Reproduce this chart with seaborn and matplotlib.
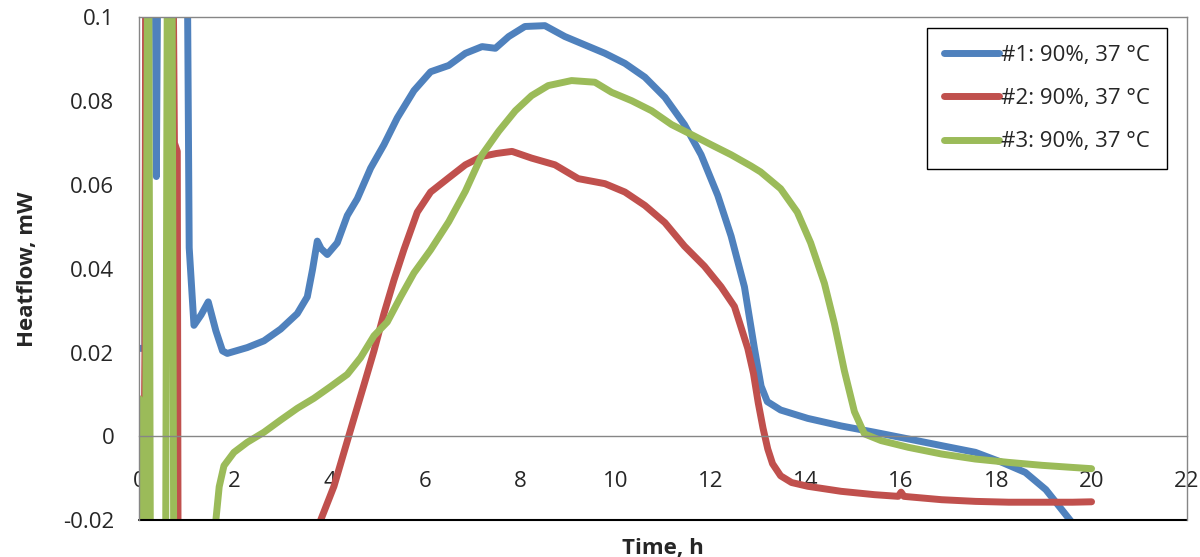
import pandas as pd
import matplotlib
matplotlib.use("Agg")
import matplotlib.pyplot as plt
import seaborn as sns

# ---------------- DATA ----------------
time1 = [0.0, 0.12, 0.15, 0.33, 0.36, 0.40, 1.0, 1.05, 1.15, 1.3, 1.45, 1.61, 1.75,
         1.85, 2.27, 2.62, 2.97, 3.32, 3.53, 3.64, 3.74, 3.82, 3.95, 4.16, 4.37, 4.58,
         4.86, 5.14, 5.42, 5.77, 6.12, 6.5, 6.85, 7.2, 7.48, 7.76, 8.1, 8.52, 8.94,
         9.36, 9.78, 10.2, 10.62, 11.04, 11.45, 11.8, 12.15, 12.43, 12.71, 12.92, 13.06,
         13.19, 13.47, 14.04, 14.74, 15.44, 16.15, 16.85, 17.56, 18.12, 18.61, 19.04,
         19.32, 19.6, 19.75]
heat1 = [0.021, 0.021, 0.13, 0.13, 0.062, 0.13, 0.13, 0.045, 0.0265, 0.029, 0.0321, 0.0252,
         0.0204, 0.0198, 0.0212, 0.0228, 0.0256, 0.0293, 0.0333, 0.0398, 0.0466, 0.0448,
         0.0434, 0.0462, 0.0527, 0.0567, 0.064, 0.0696, 0.076, 0.0825, 0.087, 0.0885,
         0.0914, 0.093, 0.0926, 0.0954, 0.0978, 0.098, 0.0954, 0.0934, 0.0914, 0.089,
         0.0857, 0.0809, 0.0744, 0.0672, 0.0575, 0.0478, 0.0357, 0.021, 0.012, 0.0083,
         0.0063, 0.0043, 0.0025, 0.001, -0.0006, -0.0022, -0.0038, -0.0062, -0.0086,
         -0.0127, -0.0167, -0.0207, -0.023]

time2 = [0.0, 0.06, 0.1, 0.12, 0.14, 0.70, 0.74, 0.80, 0.82, 3.6, 3.81, 4.09, 4.3, 4.51,
         4.72, 4.93, 5.14, 5.35, 5.56, 5.84, 6.12, 6.5, 6.85, 7.2, 7.5, 7.83, 8.24, 8.73,
         9.22, 9.78, 10.2, 10.62, 11.04, 11.45, 11.87, 12.22, 12.5, 12.78, 12.9, 13.0,
         13.1, 13.2, 13.3, 13.47, 13.7, 14.04, 14.74, 15.44, 15.94, 16.0, 16.06, 16.15,
         16.85, 17.56, 18.26, 19.0, 19.6, 20.0]
heat2 = [-0.012, -0.013, -0.008, 0.02, 0.13, 0.13, 0.07, 0.068, -0.05, -0.03, -0.02,
         -0.0119, -0.0038, 0.0043, 0.0123, 0.0204, 0.0293, 0.0373, 0.0446, 0.0535, 0.0583,
         0.0617, 0.0648, 0.0668, 0.0675, 0.068, 0.0664, 0.0648, 0.0615, 0.0603, 0.0583,
         0.0551, 0.051, 0.0454, 0.0406, 0.0357, 0.031, 0.021, 0.015, 0.008, 0.002, -0.003,
         -0.0065, -0.0094, -0.011, -0.0119, -0.0131, -0.0139, -0.0143, -0.0133, -0.0143,
         -0.0144, -0.0151, -0.0155, -0.0157, -0.0157, -0.0157, -0.0156]

time3 = [0.0, 0.03, 0.06, 0.12, 0.19, 0.24, 0.55, 0.6, 0.68, 0.73, 1.55, 1.61, 1.68, 1.78,
         1.99, 2.27, 2.62, 2.97, 3.32, 3.67, 4.02, 4.37, 4.65, 4.93, 5.21, 5.49, 5.77,
         6.12, 6.5, 6.85, 7.2, 7.55, 7.9, 8.24, 8.59, 9.08, 9.57, 9.92, 10.34, 10.76,
         11.18, 11.6, 12.01, 12.43, 12.85, 13.05, 13.47, 13.82, 14.1, 14.39, 14.6, 14.81,
         15.02, 15.23, 15.58, 16.15, 16.85, 17.56, 18.26, 18.96, 19.6, 20.0]
heat3 = [0.009, 0.006, 0.0, -0.05, 0.15, -0.05, -0.05, 0.15, 0.15, -0.05, -0.03, -0.02,
         -0.012, -0.007, -0.0038, -0.0014, 0.001, 0.0039, 0.0067, 0.0091, 0.0119, 0.0148,
         0.0188, 0.024, 0.0273, 0.0333, 0.039, 0.0445, 0.0512, 0.0585, 0.0672, 0.0728,
         0.0777, 0.0813, 0.0837, 0.0849, 0.0845, 0.0821, 0.0801, 0.0777, 0.0744, 0.072,
         0.0696, 0.0672, 0.0645, 0.0631, 0.0591, 0.0535, 0.0462, 0.0365, 0.0269, 0.0156,
         0.0059, 0.0006, -0.001, -0.0026, -0.0042, -0.0054, -0.0062, -0.0069, -0.0074,
         -0.0077]

labels = ["#1: 90%, 37 °C", "#2: 90%, 37 °C", "#3: 90%, 37 °C"]
colors = ["#4F81BD", "#C0504D", "#9BBB59"]

x_ticks = [0, 2, 4, 6, 8, 10, 12, 14, 16, 18, 20, 22]
y_ticks = [-0.02, 0, 0.02, 0.04, 0.06, 0.08, 0.1]
y_tick_labels = ["-0.02", "0", "0.02", "0.04", "0.06", "0.08", "0.1"]

# ---------------- LONG FORMAT ----------------
frames = []
for lab, t, h in zip(labels, [time1, time2, time3], [heat1, heat2, heat3]):
    frames.append(pd.DataFrame({"time": t, "heat": h, "series": lab}))
df = pd.concat(frames, ignore_index=True)

# ---------------- PLOT ----------------
sns.set_style("white")
plt.rcParams["font.family"] = ["Open Sans", "DejaVu Sans"]
plt.rcParams["axes.unicode_minus"] = False

fig, ax = plt.subplots(figsize=(12, 5.57), dpi=100)
fig.subplots_adjust(left=0.116, right=0.989, bottom=0.066, top=0.969)

sns.lineplot(data=df, x="time", y="heat", hue="series",
             palette=dict(zip(labels, colors)), sort=False, estimator=None,
             lw=5, ax=ax)
for line in ax.lines:
    line.set_solid_joinstyle("round")

ax.set_xlim(0, 22)
ax.set_ylim(-0.02, 0.1)
ax.set_xticks(x_ticks)
ax.set_yticks(y_ticks)
ax.set_yticklabels(y_tick_labels)

# excel style frame: x axis crosses at zero
grey = "#868686"
ax.spines["bottom"].set_position(("data", 0))
for s in ["bottom", "left", "top", "right"]:
    ax.spines[s].set_color(grey)
    ax.spines[s].set_linewidth(1.0)
ax.axhline(-0.02, color="black", lw=1.5, clip_on=False)

ax.tick_params(axis="x", direction="out", length=5, color=grey, pad=20, labelsize=16)
ax.tick_params(axis="y", direction="out", length=7, color=grey, pad=11, labelsize=16)

ax.set_xlabel("Time, h", fontsize=16, fontweight="bold")
ax.set_ylabel("Heatflow, mW", fontsize=16, fontweight="bold")
ax.xaxis.set_label_coords(0.5, -0.035)
ax.yaxis.set_label_coords(-0.097, 0.5)

handles, labs = ax.get_legend_handles_labels()
for hnd in handles:
    hnd.set_linewidth(5)
    hnd.set_solid_capstyle("round")
leg = ax.legend(handles, labs, loc="upper right", bbox_to_anchor=(0.981, 0.978),
                borderaxespad=0, fontsize=16, frameon=True, fancybox=False,
                edgecolor="black", framealpha=1, handlelength=2.5, handletextpad=0.1,
                labelspacing=1.0, borderpad=0.75)
leg.get_frame().set_linewidth(1.0)

plt.savefig("out.png", dpi=100)
